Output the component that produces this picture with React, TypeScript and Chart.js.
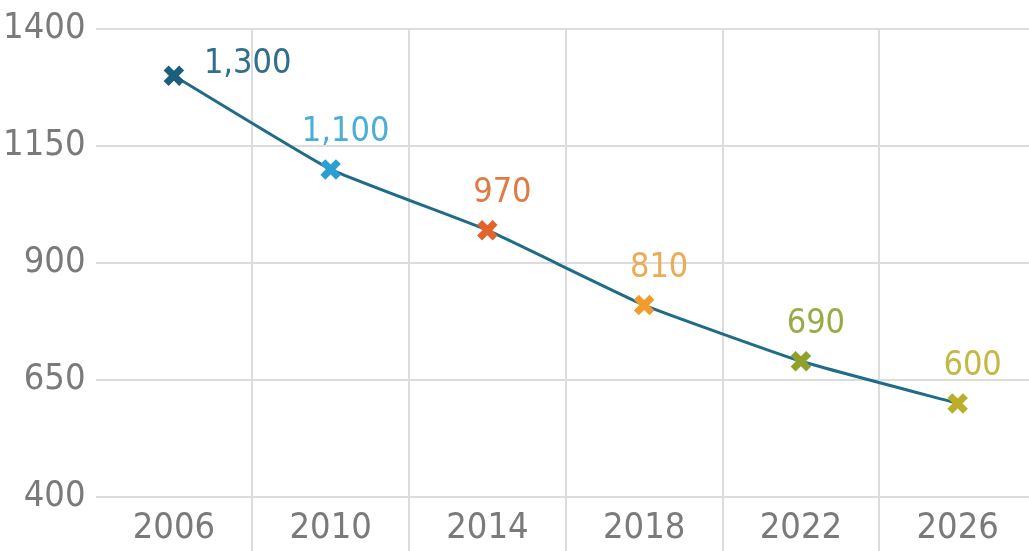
import React, { useEffect, useRef } from "react";
import { Chart, registerables } from "chart.js";

Chart.register(...registerables);

const years = ["2006", "2010", "2014", "2018", "2022", "2026"];
const values = [1300, 1100, 970, 810, 690, 600];
const markerColors = ["#1b5f7d", "#2b9fd0", "#e2632b", "#f39b2c", "#8ea12b", "#bcae29"];
const labelColors = ["#2f6f8a", "#4aaed6", "#e07a45", "#eeaa55", "#99ab45", "#c4b845"];
const yTicks = [400, 650, 900, 1150, 1400];

const FONT = "'DejaVu Sans', sans-serif";
const WEIGHT = "normal condensed";

const labelPlugin = {
  id: "valueLabels",
  afterDatasetsDraw(chart: any) {
    const ctx = chart.ctx;
    const meta = chart.getDatasetMeta(0);
    ctx.save();
    ctx.font = `${WEIGHT} 34px ${FONT}`;
    ctx.textBaseline = "middle";
    meta.data.forEach((pt: any, i: number) => {
      const text = values[i].toLocaleString("en-US");
      ctx.fillStyle = labelColors[i];
      if (i === 0) {
        ctx.textAlign = "left";
        ctx.fillText(text, pt.x + 30, pt.y - 12);
      } else {
        ctx.textAlign = "center";
        ctx.fillText(text, pt.x + 15, pt.y - 37);
      }
    });
    ctx.restore();
  },
};

export default function App() {
  const ref = useRef<HTMLCanvasElement>(null);
  useEffect(() => {
    if (!ref.current) return;
    const chart = new Chart(ref.current, {
      type: "line",
      data: {
        labels: years,
        datasets: [
          {
            data: values,
            borderColor: "#1f6c88",
            borderWidth: 3,
            tension: 0.12,
            pointStyle: "crossRot",
            pointRadius: 11,
            pointBorderWidth: 7,
            pointBorderColor: markerColors,
            pointBackgroundColor: markerColors,
          },
        ],
      },
      options: {
        animation: false,
        responsive: false,
        layout: { autoPadding: false, padding: { top: 29, right: 0, left: 0, bottom: 0 } },
        plugins: { legend: { display: false }, tooltip: { enabled: false } },
        scales: {
          x: {
            offset: true,
            grid: {
              offset: true,
              color: (c: any) => (c.index === 0 ? "rgba(0,0,0,0)" : "#dcdcdc"),
              lineWidth: 2,
              tickLength: 54,
            },
            border: { display: false },
            ticks: {
              color: "#7a7a7a",
              padding: -44,
              font: { family: FONT, size: 36, weight: WEIGHT as any },
            },
            afterFit: (s: any) => {
              s.height = 54;
              s.paddingLeft = 0;
              s.paddingRight = 0;
            },
          },
          y: {
            min: 400,
            max: 1400,
            afterBuildTicks: (s: any) => {
              s.ticks = yTicks.map((v) => ({ value: v }));
            },
            grid: { color: "#dcdcdc", lineWidth: 2, drawTicks: false },
            border: { display: false },
            ticks: {
              color: "#7a7a7a",
              padding: 10,
              font: { family: FONT, size: 36, weight: WEIGHT as any },
              callback: (v: any) => String(v),
            },
            afterFit: (s: any) => {
              s.width = 95.5;
              s.paddingTop = 0;
              s.paddingBottom = 0;
            },
          },
        },
      },
      plugins: [labelPlugin],
    });
    return () => chart.destroy();
  }, []);
  return (
    <div style={{ position: "fixed", left: 0, top: 0, width: 1036, height: 551 }}>
      <canvas ref={ref} width={1036} height={551} style={{ display: "block" }} />
    </div>
  );
}
